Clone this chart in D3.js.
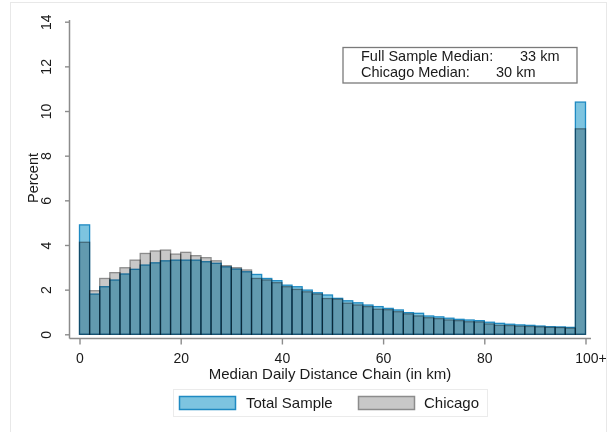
<!DOCTYPE html>
<html>
<head>
<meta charset="utf-8">
<script src="https://cdn.jsdelivr.net/npm/d3@7"></script>
<style>
  html, body { margin: 0; padding: 0; background: #fff; }
  svg { display: block; font-family: "Liberation Sans", Arial, sans-serif; }
</style>
</head>
<body>
<svg id="chart" width="616" height="432"></svg>
<script>
// ---- data (2 km bins, last bin = 100+) ----
const binStarts = d3.range(0, 100, 2);
const totalSample = [
  4.9, 1.8, 2.13, 2.43, 2.7, 2.91, 3.1, 3.2, 3.29, 3.32,
  3.32, 3.32, 3.25, 3.18, 3.02, 2.92, 2.8, 2.68, 2.5, 2.4,
  2.2, 2.13, 1.98, 1.86, 1.76, 1.61, 1.5, 1.41, 1.31, 1.24,
  1.16, 1.09, 0.97, 0.94, 0.82, 0.78, 0.72, 0.67, 0.64, 0.61,
  0.54, 0.49, 0.45, 0.42, 0.4, 0.37, 0.34, 0.33, 0.31, 10.4
];
const chicago = [
  4.12, 1.95, 2.5, 2.76, 2.98, 3.32, 3.62, 3.73, 3.77, 3.59,
  3.67, 3.52, 3.43, 3.29, 3.07, 2.98, 2.88, 2.5, 2.43, 2.31,
  2.13, 2.01, 1.9, 1.8, 1.6, 1.57, 1.39, 1.31, 1.24, 1.12,
  1.1, 1.01, 0.91, 0.82, 0.74, 0.7, 0.64, 0.61, 0.56, 0.55,
  0.46, 0.4, 0.39, 0.36, 0.35, 0.33, 0.31, 0.3, 0.27, 9.2
];
const yTicks = [0, 2, 4, 6, 8, 10, 12, 14];
const xTicks = [0, 20, 40, 60, 80, 100];
const xTickLabels = ["0", "20", "40", "60", "80", "100+"];
const seriesNames = ["Total Sample", "Chicago"];
const noteLines = [["Full Sample Median:", "33 km"], ["Chicago Median:", "30 km"]];

// ---- drawing ----
const svg = d3.select("#chart");
const textColor = "#1a1a1a";
const axisColor = "#8c8c8c";

// outer light frame
svg.append("rect").attr("x", 10.5).attr("y", 2.5).attr("width", 596).attr("height", 445)
  .attr("fill", "#fff").attr("stroke", "#e8e8e8").attr("stroke-width", 1);

const x = d3.scaleLinear().domain([0, 100]).range([79.5, 585.5]);
const y = d3.scaleLinear().domain([0, 14]).range([334.3, 21.7]);
const binW = 2;

const colors = {
  total: { fill: "#7dc4e0", stroke: "#1f8ac2" },
  chicago: { fill: "#c8c8c8", stroke: "#8c8c8c" }
};

const bars = svg.append("g");
bars.selectAll("rect.total").data(totalSample).join("rect")
  .attr("class", "total")
  .attr("x", (d, i) => x(binStarts[i]))
  .attr("width", (d, i) => x(binStarts[i] + binW) - x(binStarts[i]))
  .attr("y", d => y(d))
  .attr("height", d => y(0) - y(d))
  .attr("fill", colors.total.fill)
  .attr("stroke", colors.total.stroke)
  .attr("stroke-width", 1.3);

bars.selectAll("rect.chi").data(chicago).join("rect")
  .attr("class", "chi")
  .attr("x", (d, i) => x(binStarts[i]))
  .attr("width", (d, i) => x(binStarts[i] + binW) - x(binStarts[i]))
  .attr("y", d => y(d))
  .attr("height", d => y(0) - y(d))
  .attr("fill", colors.chicago.fill)
  .attr("stroke", colors.chicago.stroke)
  .attr("stroke-width", 1.3)
  .style("mix-blend-mode", "multiply");

// y axis
const yAxisX = 69.5;
const yAxis = svg.append("g").attr("transform", `translate(${yAxisX},0)`)
  .call(d3.axisLeft(y).tickValues(yTicks).tickSize(4.5).tickSizeOuter(0).tickFormat(d3.format("d")));
yAxis.select(".domain").remove();
yAxis.selectAll(".tick line").attr("stroke", axisColor).attr("stroke-width", 1.4);
yAxis.selectAll(".tick text")
  .attr("x", 0).attr("dy", 0).attr("y", -(yAxisX - 51))
  .attr("transform", "rotate(-90)")
  .attr("text-anchor", "middle")
  .attr("fill", textColor).style("font-size", "14px");
svg.append("line").attr("x1", yAxisX).attr("x2", yAxisX).attr("y1", 20).attr("y2", 338.5)
  .attr("stroke", axisColor).attr("stroke-width", 1.5);

// x axis
const xAxisY = 338.5;
const xAxis = svg.append("g").attr("transform", `translate(0,${xAxisY})`)
  .call(d3.axisBottom(x).tickValues(xTicks).tickSize(6).tickSizeOuter(0)
    .tickFormat((d, i) => xTickLabels[i]));
xAxis.select(".domain").remove();
xAxis.selectAll(".tick line").attr("stroke", axisColor).attr("stroke-width", 1.4);
xAxis.selectAll(".tick text")
  .attr("y", 24).attr("dy", 0)
  .attr("dx", (d, i) => i === xTicks.length - 1 ? 5 : 0)
  .attr("fill", textColor).style("font-size", "14px");
svg.append("line").attr("x1", yAxisX).attr("x2", 591).attr("y1", xAxisY).attr("y2", xAxisY)
  .attr("stroke", axisColor).attr("stroke-width", 1.5);

// axis titles
svg.append("text").attr("x", 330).attr("y", 378.5).attr("text-anchor", "middle")
  .attr("fill", textColor).style("font-size", "15px")
  .text("Median Daily Distance Chain (in km)");
svg.append("text").attr("transform", "translate(38,178) rotate(-90)").attr("text-anchor", "middle")
  .attr("fill", textColor).style("font-size", "14.5px")
  .text("Percent");

// note box
svg.append("rect").attr("x", 343).attr("y", 47.5).attr("width", 234).attr("height", 35.5)
  .attr("fill", "#fff").attr("stroke", "#7a7a7a").attr("stroke-width", 1.3);
const noteX = [[361, 520], [361, 496]];
const noteY = [61, 77];
noteLines.forEach((ln, i) => {
  ln.forEach((t, j) => {
    svg.append("text").attr("x", noteX[i][j]).attr("y", noteY[i])
      .attr("fill", textColor).style("font-size", "14.5px").text(t);
  });
});

// legend
const lg = svg.append("g");
lg.append("rect").attr("x", 173.5).attr("y", 389.5).attr("width", 314).attr("height", 27)
  .attr("fill", "#fff").attr("stroke", "#ebebeb").attr("stroke-width", 1);
const legendItems = [
  { name: seriesNames[0], c: colors.total, sx: 179, tx: 246 },
  { name: seriesNames[1], c: colors.chicago, sx: 358, tx: 424 }
];
legendItems.forEach(it => {
  lg.append("rect").attr("x", it.sx + 0.5).attr("y", 396.5).attr("width", 56).attr("height", 13)
    .attr("fill", it.c.fill).attr("stroke", it.c.stroke).attr("stroke-width", 1.5);
  lg.append("text").attr("x", it.tx).attr("y", 408.3).attr("fill", textColor)
    .style("font-size", "15px").text(it.name);
});
</script>
</body>
</html>
